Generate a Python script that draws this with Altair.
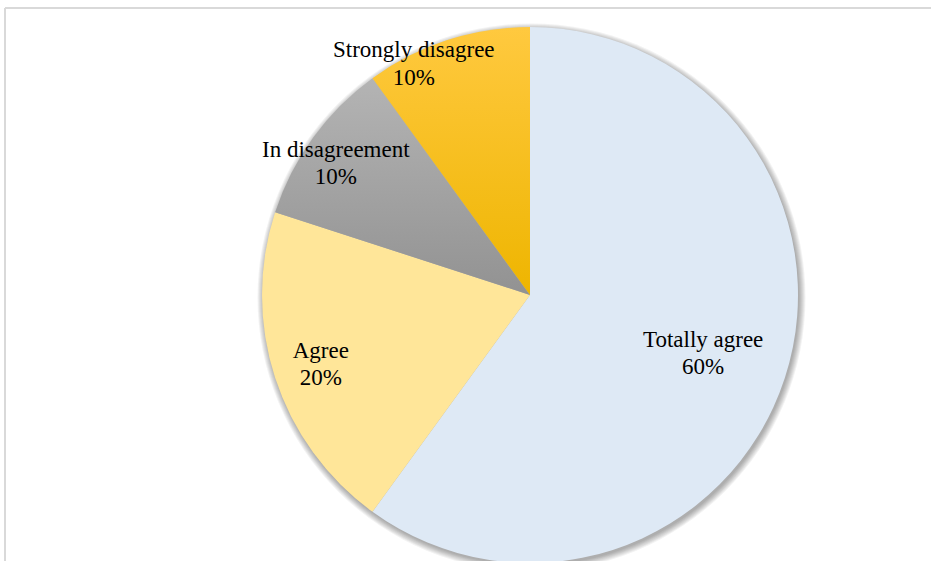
import altair as alt
import pandas as pd

# ---- data ----
categories = ["Totally agree", "Agree", "In disagreement", "Strongly disagree"]
values = [60, 20, 10, 10]
order = [0, 1, 2, 3]

df = pd.DataFrame({"category": categories, "value": values, "order": order})

# ---- styles ----
W, H = 802, 532
PAD = {"left": 129, "top": 29, "right": 0, "bottom": 0}
R = 268
FONT = "Liberation Serif"

def grad(c1, c2):
    return alt.LinearGradient(
        gradient="linear",
        stops=[alt.GradientStop(color=c1, offset=0), alt.GradientStop(color=c2, offset=1)],
        x1=0, x2=0, y1=0, y2=1,
    )

slice_fill = {
    "Totally agree": "#DEE9F5",
    "Agree": "#FFE699",
    "In disagreement": grad("#B4B4B4", "#929292"),
    "Strongly disagree": grad("#FFC93F", "#EEB500"),
}
# (radius, dx, dy) for each label
label_pos = {
    "Totally agree": (181, 1, -4),
    "Agree": (220, 0, -5),
    "In disagreement": (240, 0, 3),
    "Strongly disagree": (250, -39, 0),
}

theta_scale = alt.Scale(domain=[0, 100])

base = alt.Chart(df).transform_stack(
    stack="value", groupby=[], as_=["v0", "v1"],
    sort=[alt.SortField(field="order", order="ascending")],
).transform_calculate(
    mid="(datum.v0 + datum.v1) / 2",
    label="datum.category + '\\n' + datum.value + '%'",
)

# frame lines
frame_df = pd.DataFrame({"k": [0]})
frame_top = alt.Chart(frame_df).mark_rule(color="#D9D9D9", strokeWidth=2).encode(
    x=alt.value(-124), x2=alt.value(W + 10), y=alt.value(-21)
)
frame_left = alt.Chart(frame_df).mark_rule(color="#D9D9D9", strokeWidth=2).encode(
    x=alt.value(-124), y=alt.value(-21), y2=alt.value(H + 10)
)

# soft shadow rings
shadows = []
for k in range(1, 8):
    shadows.append(
        alt.Chart(frame_df).mark_arc(
            radius=R + k - 1, theta=0, theta2=6.2832, color="#000000", opacity=0.05
        ).encode(x=alt.value(W / 2 + 1.5), y=alt.value(H / 2 + 2.5))
    )

slices = []
for cat in categories:
    slices.append(
        base.transform_filter(alt.datum.category == cat)
        .mark_arc(radius=R, color=slice_fill[cat])
        .encode(
            theta=alt.Theta("v0:Q", scale=theta_scale),
            theta2="v1:Q",
        )
    )

labels = []
for cat in categories:
    r, dx, dy = label_pos[cat]
    labels.append(
        base.transform_filter(alt.datum.category == cat)
        .mark_text(
            radius=r, dx=dx, dy=dy, font=FONT, fontSize=23, lineBreak="\n",
            lineHeight=27.5, align="center", baseline="alphabetic", color="#000000",
        )
        .encode(
            theta=alt.Theta("mid:Q", scale=theta_scale),
            text="label:N",
        )
    )

chart = alt.layer(frame_top, frame_left, *shadows, *slices, *labels).properties(
    width=W, height=H, padding=PAD, autosize=alt.AutoSizeParams(type="none"),
    background="white",
).configure_view(stroke=None)

chart.save("out.html", embed_options={"renderer": "svg", "actions": False})
